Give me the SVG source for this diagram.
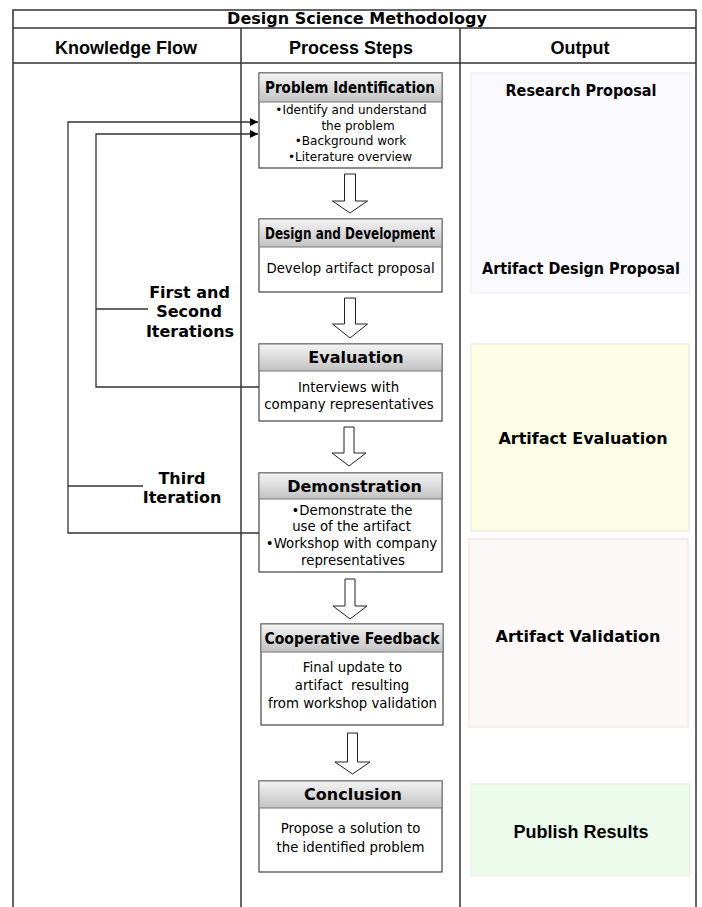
<svg xmlns="http://www.w3.org/2000/svg" width="702" height="907" viewBox="0 0 702 907">
  <defs>
    <linearGradient id="hdrGrad" x1="0" y1="0" x2="0" y2="1">
      <stop offset="0" stop-color="#f4f4f4"/>
      <stop offset="1" stop-color="#c2c2c2"/>
    </linearGradient>
    <marker id="tri" viewBox="0 0 8 8" refX="8" refY="4" markerWidth="8" markerHeight="8" markerUnits="userSpaceOnUse" orient="auto">
      <path d="M0,0 L8,4 L0,8 Z" fill="#000"/>
    </marker>
    <style>
      .frame { stroke: #333; stroke-width: 1.5; fill: none; }
      .title { font-family: "DejaVu Sans", sans-serif; font-weight: bold; font-size: 16px; fill: #000; text-anchor: middle; }
      .colhead { font-family: "Liberation Sans", Arial, sans-serif; font-weight: bold; font-size: 18px; fill: #000; text-anchor: middle; }
      .box { fill: #fff; stroke: #444; stroke-width: 1.2; }
      .hdr { fill: url(#hdrGrad); stroke: #777; stroke-width: 1; }
      .hb { font-family: "DejaVu Sans", sans-serif; font-weight: bold; font-size: 16px; fill: #000; text-anchor: middle; }
      .hc { font-family: "DejaVu Sans Condensed", "DejaVu Sans", sans-serif; font-stretch: condensed; font-weight: bold; font-size: 15px; fill: #000; text-anchor: middle; }
      .body { font-family: "DejaVu Sans", sans-serif; font-size: 13.3px; fill: #000; text-anchor: middle; }
      .small { font-size: 12px; }
      .fat { fill: #fff; stroke: #222; stroke-width: 1; }
      .link { stroke: #333; stroke-width: 1.3; fill: none; }
      .lbl { font-family: "DejaVu Sans", sans-serif; font-weight: bold; font-size: 16px; fill: #000; text-anchor: middle; }
      .out { stroke-width: 1.6; }
      .outc { font-family: "DejaVu Sans Condensed", "DejaVu Sans", sans-serif; font-stretch: condensed; font-weight: bold; font-size: 16px; fill: #000; text-anchor: middle; }
      .outb { font-family: "DejaVu Sans", sans-serif; font-weight: bold; font-size: 16px; fill: #000; text-anchor: middle; }
      .outa { font-family: "Liberation Sans", Arial, sans-serif; font-weight: bold; font-size: 18px; fill: #000; text-anchor: middle; }
    </style>
  </defs>

  <rect width="702" height="907" fill="#fff"/>

  <!-- table frame -->
  <g id="table">
    <path class="frame" d="M13,907 V10 H696 V907"/>
    <line class="frame" x1="13" y1="28" x2="696" y2="28"/>
    <line class="frame" x1="13" y1="63" x2="696" y2="63"/>
    <line class="frame" x1="241" y1="28" x2="241" y2="907"/>
    <line class="frame" x1="460" y1="28" x2="460" y2="907"/>
    <text class="title" x="357" y="24">Design Science Methodology</text>
    <text class="colhead" x="126" y="54">Knowledge Flow</text>
    <text class="colhead" x="351" y="54">Process Steps</text>
    <text class="colhead" x="580" y="54">Output</text>
  </g>

  <!-- output panels -->
  <g id="out-proposal">
    <rect class="out" x="471" y="73" width="219" height="220" fill="#f9f9fe" stroke="#f0f0f8"/>
    <text class="outc" x="581" y="96" textLength="151" lengthAdjust="spacingAndGlyphs">Research Proposal</text>
    <text class="outc" x="581" y="274" textLength="198" lengthAdjust="spacingAndGlyphs">Artifact Design Proposal</text>
  </g>
  <g id="out-evaluation">
    <rect class="out" x="471" y="344" width="218" height="187" fill="#fefee7" stroke="#eef0e6"/>
    <text class="outb" x="583" y="444">Artifact Evaluation</text>
  </g>
  <g id="out-validation">
    <rect class="out" x="469" y="539" width="219" height="188" fill="#fdf8f8" stroke="#f8e8e8"/>
    <text class="outb" x="578" y="642">Artifact Validation</text>
  </g>
  <g id="out-publish">
    <rect class="out" x="471" y="784" width="219" height="92" fill="#edfbed" stroke="#eef2ec"/>
    <text class="outa" x="581" y="838">Publish Results</text>
  </g>

  <!-- process steps -->
  <g id="step-problem">
    <rect class="box" x="259" y="73" width="183" height="95"/>
    <rect class="hdr" x="259" y="73" width="183" height="29"/>
    <text class="hc" x="350" y="93" textLength="170" lengthAdjust="spacingAndGlyphs">Problem Identification</text>
    <text class="body small" x="351" y="114">•Identify and understand</text>
    <text class="body small" x="358" y="129.5">the problem</text>
    <text class="body small" x="350.5" y="145">•Background work</text>
    <text class="body small" x="350" y="161">•Literature overview</text>
  </g>
  <g id="step-design">
    <rect class="box" x="259" y="219" width="183" height="73"/>
    <rect class="hdr" x="259" y="219" width="183" height="28"/>
    <text class="hc" x="350" y="239" textLength="170" lengthAdjust="spacingAndGlyphs">Design and Development</text>
    <text class="body" x="350.5" y="273">Develop artifact proposal</text>
  </g>
  <g id="step-evaluation">
    <rect class="box" x="259" y="344" width="183" height="77"/>
    <rect class="hdr" x="259" y="344" width="183" height="27"/>
    <text class="hb" x="356" y="363">Evaluation</text>
    <text class="body" x="348.5" y="392">Interviews with</text>
    <text class="body" x="349" y="409">company representatives</text>
  </g>
  <g id="step-demonstration">
    <rect class="box" x="259" y="473" width="183" height="99"/>
    <rect class="hdr" x="259" y="473" width="183" height="26"/>
    <text class="hb" x="354.5" y="492">Demonstration</text>
    <text class="body" x="352" y="515">•Demonstrate the</text>
    <text class="body" x="351.5" y="531">use of the artifact</text>
    <text class="body" x="351.5" y="548">•Workshop with company</text>
    <text class="body" x="353" y="565">representatives</text>
  </g>
  <g id="step-feedback">
    <rect class="box" x="261" y="624" width="182" height="101"/>
    <rect class="hdr" x="261" y="624" width="182" height="28"/>
    <text class="hc" x="352" y="644" textLength="175" lengthAdjust="spacingAndGlyphs">Cooperative Feedback</text>
    <text class="body" x="352.5" y="672">Final update to</text>
    <text class="body" x="352" y="690" xml:space="preserve">artifact  resulting</text>
    <text class="body" x="352.5" y="708">from workshop validation</text>
  </g>
  <g id="step-conclusion">
    <rect class="box" x="259" y="781" width="183" height="91"/>
    <rect class="hdr" x="259" y="781" width="183" height="27"/>
    <text class="hb" x="353" y="800">Conclusion</text>
    <text class="body" x="350.5" y="833">Propose a solution to</text>
    <text class="body" x="350.5" y="852">the identified problem</text>
  </g>

  <!-- connectors: block arrows between steps and iteration feedback loops -->
  <g id="connectors">
    <path class="fat" d="M344.5,174 H355.5 V201 H367.5 L350,213 L332.5,201 H344.5 Z"/>
    <path class="fat" d="M344.5,298 H355.5 V324 H367.5 L350,338 L332.5,324 H344.5 Z"/>
    <path class="fat" d="M344,427 H354 V453 H366 L349,466 L332,453 H344 Z"/>
    <path class="fat" d="M345,579 H355 V606 H367 L350,619 L333,606 H345 Z"/>
    <path class="fat" d="M347.5,733 H357.5 V762 H370 L352.5,774 L335,762 H347.5 Z"/>

    <path class="link" d="M259,533 H68 V122 H258" marker-end="url(#tri)"/>
    <path class="link" d="M259,387 H96 V134 H258" marker-end="url(#tri)"/>
    <line class="link" x1="68" y1="486" x2="143" y2="486"/>
    <line class="link" x1="96" y1="309" x2="148" y2="309"/>
  </g>

  <g id="iteration-labels">
    <text class="lbl" x="189.5" y="298">First and</text>
    <text class="lbl" x="189" y="317">Second</text>
    <text class="lbl" x="190" y="337">Iterations</text>
    <text class="lbl" x="182" y="484">Third</text>
    <text class="lbl" x="182" y="503">Iteration</text>
  </g>
</svg>
